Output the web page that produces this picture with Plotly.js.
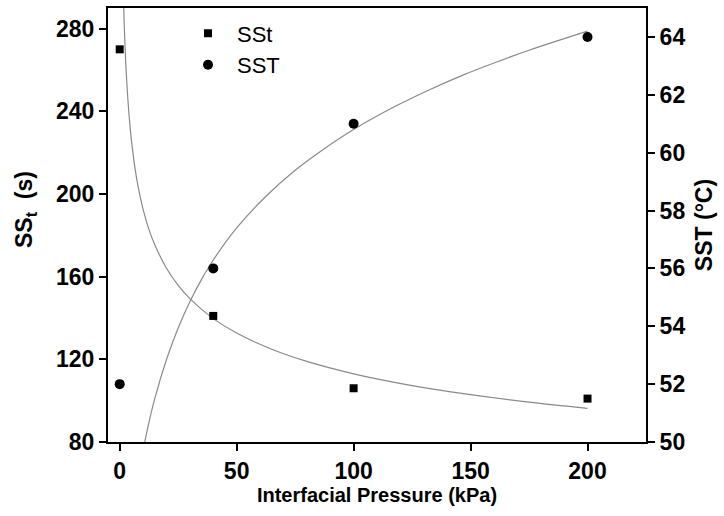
<!DOCTYPE html>
<html><head><meta charset="utf-8">
<script src="https://cdn.plot.ly/plotly-3.0.1.min.js"></script>
<style>html,body{margin:0;padding:0;background:#fff}</style>
</head><body>
<div id="chart" style="width:724px;height:516px"></div>
<script>
// measured points
const pressure = [0, 40, 100, 200];
const sst_t = [270, 141, 106, 101];      // SSt (s), left axis
const sst_T = [52, 56, 61, 64];          // SST (°C), right axis

// fitted curves
const fitT_x = [1.5, 2, 2.5, 3, 4, 5, 6.5, 8, 10, 12.5, 15, 20, 25, 30, 40, 50, 65, 80, 100, 125, 150, 175, 200];
const fitT_y = [299, 279.8, 265.7, 254.7, 238.2, 226.2, 212.8, 202.8, 192.6, 182.9, 175.4, 164.1, 155.8, 149.4, 139.7, 132.7, 124.9, 119.0, 113.0, 107.3, 102.9, 99.3, 96.3];
const fitC_x = [10, 12, 15, 20, 25, 30, 35, 40, 50, 62, 75, 87, 100, 118, 132, 147, 160, 175, 200];
const fitC_y = [49.7, 50.5, 51.5, 52.85, 53.94, 54.85, 55.62, 56.29, 57.4, 58.45, 59.39, 60.11, 60.8, 61.61, 62.16, 62.69, 63.1, 63.54, 64.2];

const fitLine = {color: '#8a8a8a', width: 1.2, shape: 'spline', smoothing: 1};
const traces = [
  {x: fitT_x, y: fitT_y, mode: 'lines', line: fitLine, showlegend: false, yaxis: 'y', hoverinfo: 'skip'},
  {x: fitC_x, y: fitC_y, mode: 'lines', line: fitLine, showlegend: false, yaxis: 'y2', hoverinfo: 'skip'},
  {x: pressure, y: sst_t, mode: 'markers', name: 'SSt', yaxis: 'y',
   marker: {symbol: 'square', size: 8, color: '#000'}, cliponaxis: false},
  {x: pressure, y: sst_T, mode: 'markers', name: 'SST', yaxis: 'y2',
   marker: {symbol: 'circle', size: 10, color: '#000'}, cliponaxis: false}
];

const fam = 'Liberation Sans, Arial, sans-serif';
const tickFont = {family: fam, size: 23, color: '#000', weight: 'bold'};
const axCommon = {
  showgrid: false, zeroline: false, showline: true, linecolor: '#000', linewidth: 2,
  ticks: 'outside', ticklen: 7, tickwidth: 2, tickcolor: '#000', tickfont: tickFont
};

const layout = {
  width: 724, height: 516,
  margin: {l: 108, r: 78, t: 8, b: 74},
  paper_bgcolor: '#fff', plot_bgcolor: '#fff',
  showlegend: true,
  legend: {x: 0.132, y: 0.99, xanchor: 'left', yanchor: 'top', bgcolor: 'rgba(0,0,0,0)',
           font: {family: fam, size: 22, color: '#000'},
           tracegroupgap: 0, itemwidth: 48},
  xaxis: Object.assign({}, axCommon, {
    range: [-5, 225], tickvals: [0, 50, 100, 150, 200], mirror: true,
    title: {text: 'Interfacial Pressure (kPa)', font: {family: fam, size: 20, color: '#000', weight: 'bold'}, standoff: 3}
  }),
  yaxis: Object.assign({}, axCommon, {
    range: [80, 290], tickvals: [80, 120, 160, 200, 240, 280]
  }),
  yaxis2: Object.assign({}, axCommon, {
    range: [50, 65], tickvals: [50, 52, 54, 56, 58, 60, 62, 64],
    overlaying: 'y', side: 'right',
    title: {text: 'SST (°C)', font: {family: fam, size: 23, color: '#000', weight: 'bold'}, standoff: 12}
  }),
  annotations: [{
    text: 'SS<sub>t</sub>  (s)', xref: 'paper', yref: 'paper', x: -0.152, y: 0.535,
    xanchor: 'center', yanchor: 'middle', textangle: -90, showarrow: false,
    font: {family: fam, size: 23, color: '#000', weight: 'bold'}
  }]
};

Plotly.newPlot('chart', traces, layout, {staticPlot: true, displayModeBar: false});
</script>
</body></html>
